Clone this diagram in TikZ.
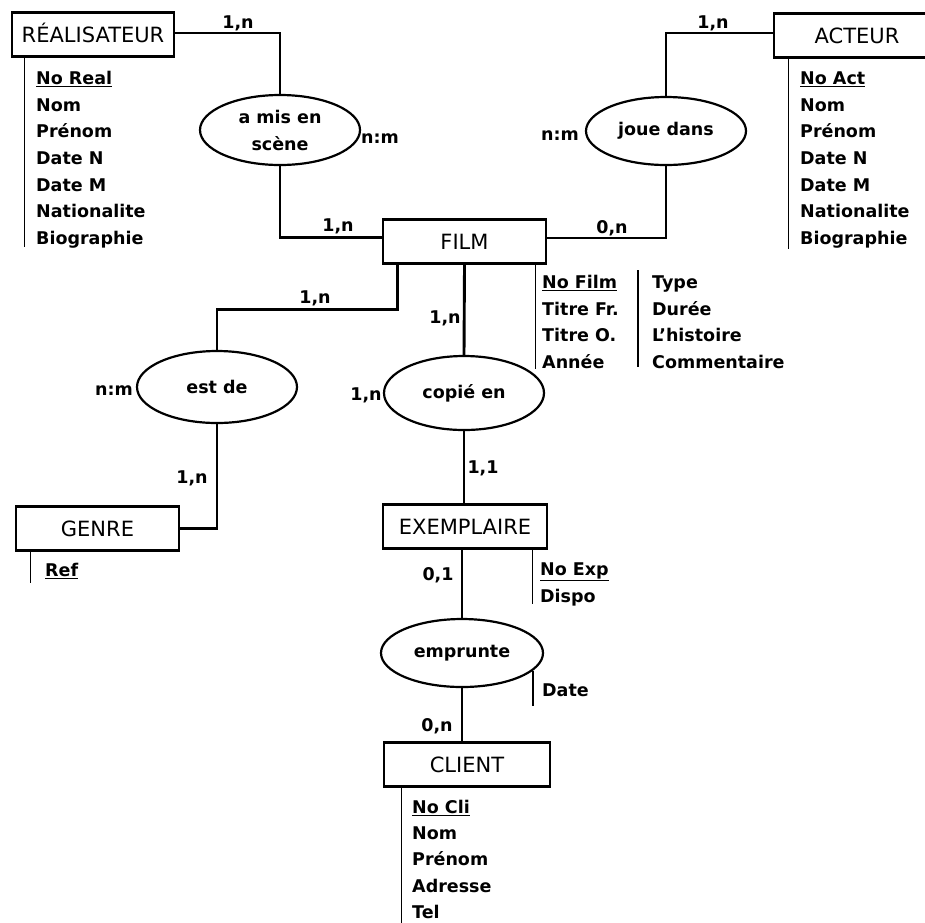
\documentclass[tikz,border=0pt]{standalone}
\usepackage{fontspec}
\setmainfont{DejaVu Sans}
\usetikzlibrary{shapes.geometric,calc}
\begin{document}
\begin{tikzpicture}[x=1pt,y=-1pt,
  ent/.style={draw,rectangle,line width=2.8pt,inner sep=0pt,minimum width=#1,minimum height=44pt,
    font=\fontsize{21}{24}\selectfont,text height=15pt,text depth=0pt},
  rel/.style={draw,ellipse,line width=2.2pt,inner sep=0pt,minimum width=160pt,minimum height=70pt,
    font=\fontsize{17.5}{27}\selectfont\bfseries,align=center},
  link/.style={line width=2.9pt},
  attline/.style={line width=1.3pt},
  att/.style={anchor=base west,inner sep=0pt,font=\fontsize{17.5}{21}\selectfont\bfseries},
  card/.style={anchor=base,inner sep=0pt,font=\fontsize{17.5}{21}\selectfont\bfseries}]
\useasboundingbox (0,0) rectangle (925,922);
\clip (0,0) rectangle (925,922);

% entities
\node[ent=162pt] (real) at (93,34.5) {RÉALISATEUR};
\node[ent=166pt] (acteur) at (857,35.5) {ACTEUR};
\node[ent=163pt] (film) at (464.5,241.5) {FILM};
\node[ent=163pt] (genre) at (97.5,528.5) {GENRE};
\node[ent=164pt] (exemp) at (465,526.5) {EXEMPLAIRE};
\node[ent=166pt] (client) at (467,764.5) {CLIENT};

% relationships
\node[rel] (mis) at (280,130) {a mis en\\scène};
\node[rel,minimum height=68pt] (joue) at (666,131) {joue dans};
\node[rel,minimum height=72pt] (estde) at (217,387) {est de};
\node[rel,minimum height=74pt] (copie) at (464,393) {copié en};
\node[rel,minimum width=162pt,minimum height=68pt] (empr) at (462,653) {emprunte};

% connectors
\draw[link] ([yshift=1.5pt]real.east) -| (mis.north);
\draw[link] (mis.south) |- ([yshift=4pt]film.west);
\draw[link] ([yshift=2.5pt]acteur.west) -| (joue.north);
\draw[link] (joue.south) |- ([yshift=3.5pt]film.east);
\draw[link] ([xshift=16pt]film.south west) -- ++(0,45) -| (estde.north);
\draw[link] (film.south) -- (copie.north);
\draw[link] (estde.south) |- (genre.east);
\draw[link] (copie.south) -- (copie.south |- exemp.north);
\draw[link] (empr.north |- exemp.south) -- (empr.north);
\draw[link] (empr.south) -- (empr.south |- client.north);

% cardinalities
\node[card] (c1) at (238,28) {1,n};
\node[card] (c2) at (380,143) {n:m};
\node[card] (c3) at (338,231) {1,n};
\node[card] (c4) at (713,28) {1,n};
\node[card] (c5) at (560,140) {n:m};
\node[card] (c6) at (612,233) {0,n};
\node[card] (c7) at (315,303) {1,n};
\node[card] (c8) at (445,323) {1,n};
\node[card] (c9) at (114,395) {n:m};
\node[card] (c10) at (366,400) {1,n};
\node[card] (c11) at (192,483) {1,n};
\node[card] (c12) at (483,473) {1,1};
\node[card] (c13) at (438,580) {0,1};
\node[card] (c14) at (437,731) {0,n};

% attribute lines
\draw[attline] ([xshift=14pt]real.south west) -- ++(0,189);
\draw[attline] ([xshift=16pt]acteur.south west) -- ++(0,190);
\draw[attline] ([xshift=-12pt]film.south east) -- ++(0,104);
\coordinate (fl2a) at (638,270);
\coordinate (fl2b) at (638,367);
\draw[attline] (fl2a) -- (fl2b);
\draw[attline] ([xshift=16pt]genre.south west) -- ++(0,31);
\draw[attline] ([xshift=-16pt]exemp.south east) -- ++(0,54);
\coordinate (dta) at (533,671);
\coordinate (dtb) at (533,706);
\draw[attline] (dta) -- (dtb);
\draw[attline] ([xshift=19pt]client.south west) -- ++(0,140);

% attributes
\foreach \t [count=\i from 0] in {\underline{No Real},Nom,Prénom,Date N,Date M,Nationalite,Biographie}
  \node[att] (ra\i) at (36,84.4+26.7*\i) {\t};
\foreach \t [count=\i from 0] in {\underline{No Act},Nom,Prénom,Date N,Date M,Nationalite,Biographie}
  \node[att] (aa\i) at (800,84.4+26.7*\i) {\t};
\foreach \t [count=\i from 0] in {\underline{No Film},Titre Fr.,Titre O.,Année}
  \node[att] (fa\i) at (542,288.4+26.7*\i) {\t};
\foreach \t [count=\i from 0] in {Type,Durée,L'histoire,Commentaire}
  \node[att] (fb\i) at (652,288.4+26.7*\i) {\t};
\node[att] (ga0) at (45,576.4) {\underline{Ref}};
\node[att] (ea0) at (540,575.4) {\underline{No Exp}};
\node[att] (ea1) at (540,602.4) {Dispo};
\node[att] (da0) at (542,696.4) {Date};
\foreach \t [count=\i from 0] in {\underline{No Cli},Nom,Prénom,Adresse,Tel}
  \node[att] (ca\i) at (412,813.4+26.2*\i) {\t};
\end{tikzpicture}
\end{document}
